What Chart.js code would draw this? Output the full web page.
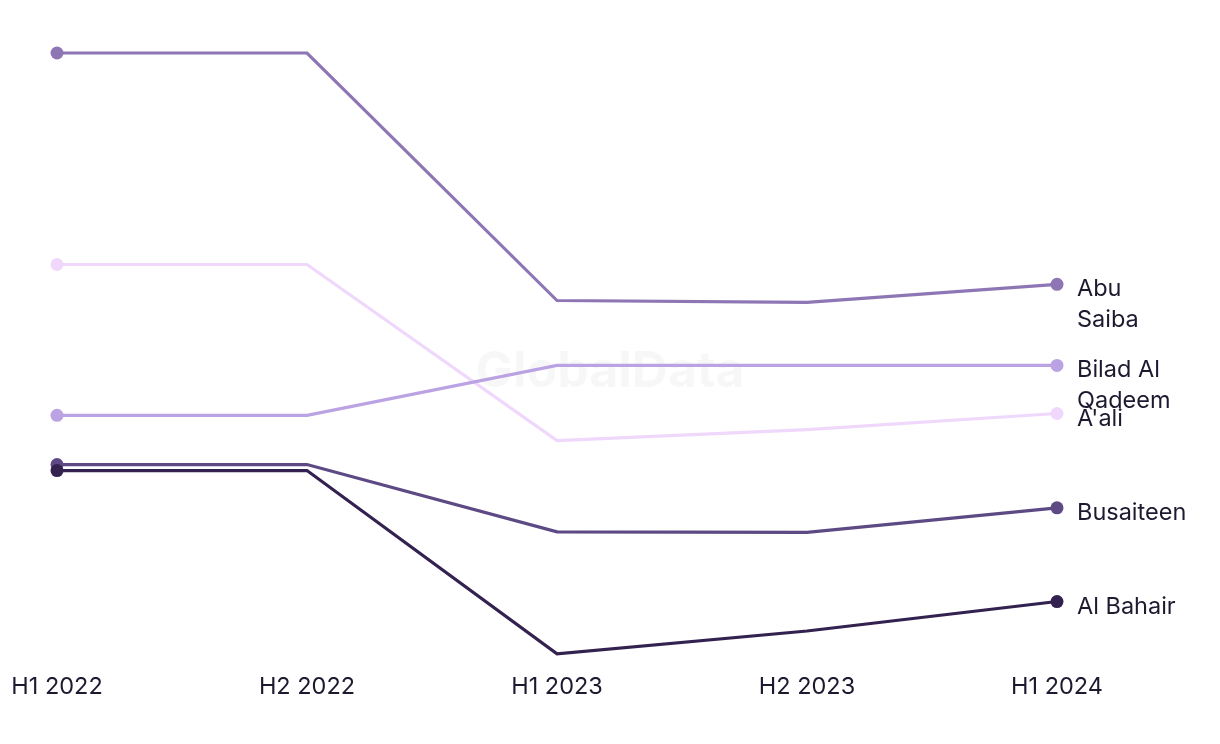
<!DOCTYPE html>
<html lang="en">
<head>
    <meta charset="UTF-8">
    <title>Bahrain areas trend</title>
    <script src="https://cdn.jsdelivr.net/npm/chart.js"></script>
    <style>
        body {
            margin: 0;
            background: #fff;
        }
        .chart-box {
            width: 1220px;
            height: 744px;
        }
    </style>
</head>
<body>
    <div class="chart-box">
        <canvas id="trendChart"></canvas>
    </div>
    <script>
        const periods = ['H1 2022', 'H2 2022', 'H1 2023', 'H2 2023', 'H1 2024'];

        const alBahair = [30.5, 30.5, 0, 3.8, 8.7];
        const busaiteen = [31.5, 31.5, 20.3, 20.2, 24.3];
        const biladAlQadeem = [39.7, 39.7, 48, 48, 48];
        const aali = [64.8, 64.8, 35.5, 37.3, 40];
        const abuSaiba = [100, 100, 58.8, 58.5, 61.5];

        const seriesNames = ['Al Bahair', 'Busaiteen', 'Bilad Al Qadeem', "A'ali", 'Abu Saiba'];
        const endLabels = [['Al Bahair'], ['Busaiteen'], ['Bilad Al', 'Qadeem'], ["A'ali"], ['Abu', 'Saiba']];
        const colors = ['#33224f', '#5d4a85', '#bba2e2', '#efd8fb', '#8e76b5'];

        const textColor = '#1d1a30';
        const fontFamily = 'Inter, "Noto Sans", sans-serif';

        // watermark behind the lines
        const watermark = {
            id: 'watermark',
            beforeDatasetsDraw(chart) {
                const ctx = chart.ctx;
                ctx.save();
                ctx.font = 'bold 50px ' + fontFamily;
                ctx.fillStyle = 'rgba(0, 0, 0, 0.03)';
                ctx.textAlign = 'center';
                ctx.textBaseline = 'middle';
                ctx.fillText('GlobalData', 610, 372);
                ctx.restore();
            }
        };

        // names written next to the last point of each line
        const lineLabels = {
            id: 'lineLabels',
            afterDatasetsDraw(chart) {
                const ctx = chart.ctx;
                ctx.save();
                ctx.font = '23.5px ' + fontFamily;
                ctx.fillStyle = textColor;
                ctx.textAlign = 'left';
                ctx.textBaseline = 'middle';
                chart.data.datasets.forEach((ds, i) => {
                    const meta = chart.getDatasetMeta(i);
                    const last = meta.data[meta.data.length - 1];
                    endLabels[i].forEach((line, j) => {
                        ctx.fillText(line, last.x + 20, last.y + 5 + j * 31);
                    });
                });
                ctx.restore();
            }
        };

        const seriesData = [alBahair, busaiteen, biladAlQadeem, aali, abuSaiba];

        new Chart(document.getElementById('trendChart'), {
            type: 'line',
            data: {
                labels: periods,
                datasets: seriesData.map((values, i) => ({
                    label: seriesNames[i],
                    data: values,
                    borderColor: colors[i],
                    backgroundColor: colors[i],
                    borderWidth: 3.2,
                    tension: 0,
                    pointRadius: [6.5, 0, 0, 0, 6.5],
                    pointHoverRadius: 0,
                    pointBorderWidth: 0,
                    clip: false
                }))
            },
            options: {
                responsive: true,
                maintainAspectRatio: false,
                animation: false,
                layout: {
                    padding: { left: 57, right: 163, top: 53, bottom: 32 }
                },
                plugins: {
                    legend: { display: false },
                    tooltip: { enabled: false }
                },
                scales: {
                    x: {
                        grid: { display: false },
                        border: { display: false },
                        ticks: {
                            color: textColor,
                            font: { family: fontFamily, size: 23.5 },
                            padding: 11,
                            maxRotation: 0
                        }
                    },
                    y: {
                        display: false,
                        min: 0,
                        max: 100
                    }
                }
            },
            plugins: [watermark, lineLabels]
        });
    </script>
</body>
</html>
